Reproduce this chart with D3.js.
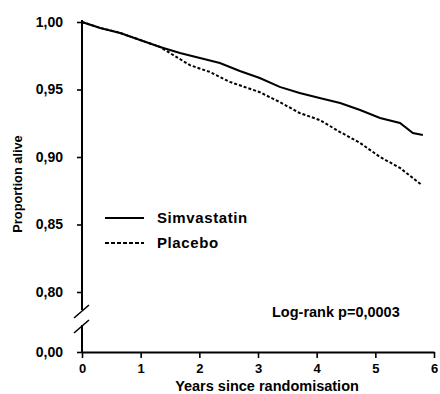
<!DOCTYPE html>
<html>
<head>
<meta charset="utf-8">
<script src="https://cdn.jsdelivr.net/npm/d3@7"></script>
<style>
  body { margin: 0; background: #fff; }
  svg text { font-family: "Liberation Sans", Arial, sans-serif; font-weight: bold; fill: #000; }
</style>
</head>
<body>
<div class="chart"></div>
<script>
// survival readings (years since randomisation -> proportion alive)
const simvYears = [0, 0.31, 0.65, 0.99, 1.33, 1.67, 2.01, 2.35, 2.69, 3.03, 3.37, 3.71, 4.05, 4.40, 4.74, 5.08, 5.42, 5.64, 5.81]
const simvSurv  = [1.000, 0.9956, 0.9919, 0.9867, 0.9815, 0.977, 0.9733, 0.9696, 0.9637, 0.9585, 0.9519, 0.9474, 0.9437, 0.940, 0.9348, 0.9289, 0.9252, 0.9178, 0.9163]
const placYears = [0, 0.31, 0.65, 0.99, 1.33, 1.5, 1.84, 2.18, 2.52, 3.03, 3.37, 3.71, 4.05, 4.40, 4.74, 5.08, 5.42, 5.79]
const placSurv  = [1.000, 0.9956, 0.9919, 0.9867, 0.9815, 0.977, 0.968, 0.963, 0.9556, 0.948, 0.9407, 0.9326, 0.9274, 0.9185, 0.9104, 0.900, 0.8919, 0.8793]

const seriesNames = ["Simvastatin", "Placebo"]
const xTicks = [0, 1, 2, 3, 4, 5, 6]
const yTicks = [0, 0.80, 0.85, 0.90, 0.95, 1.00]

const width = 440, height = 394

const svg = d3.select(".chart").append("svg")
  .attr("width", width)
  .attr("height", height)

const xs = d3.scaleLinear().domain([0, 6]).range([82, 434])
// broken axis: 0.00 sits below the break, 0.80-1.00 above it
const ys = d3.scaleLinear().domain([0, 0.80, 1.00]).range([352, 292, 22])

// y axis (ticks only, line drawn by hand for the break)
const yAxis = svg.append("g")
  .attr("transform", "translate(82,0)")
  .call(d3.axisLeft(ys).tickValues(yTicks).tickSize(5)
    .tickFormat(d => d3.format(".2f")(d).replace(".", ",")))
yAxis.select(".domain").remove()
yAxis.selectAll("line").attr("stroke", "#000").attr("stroke-width", 1.6)
yAxis.selectAll("text").attr("x", -19).style("font-size", "14px")

svg.append("line").attr("x1", 82).attr("x2", 82).attr("y1", 20).attr("y2", 310)
  .attr("stroke", "#000").attr("stroke-width", 2)
svg.append("line").attr("x1", 82).attr("x2", 82).attr("y1", 325).attr("y2", 353)
  .attr("stroke", "#000").attr("stroke-width", 2)
// break marks
svg.selectAll(".brk").data([0, 15]).join("line")
  .attr("class", "brk")
  .attr("x1", 74).attr("x2", 89)
  .attr("y1", d => 318 + d).attr("y2", d => 305 + d)
  .attr("stroke", "#000").attr("stroke-width", 1.6)

// x axis
const xAxis = svg.append("g")
  .attr("transform", "translate(0,352)")
  .call(d3.axisBottom(xs).tickValues(xTicks).tickSize(6).tickSizeOuter(0)
    .tickFormat(d3.format("d")))
xAxis.select(".domain").attr("stroke", "#000").attr("stroke-width", 2)
xAxis.selectAll("line").attr("stroke", "#000").attr("stroke-width", 1.6)
xAxis.selectAll("text").attr("y", 12).style("font-size", "13px")

// curves
const line = d3.line().x(d => xs(d[0])).y(d => ys(d[1]))
const simvData = simvYears.map((t, i) => [t, simvSurv[i]])
const placData = placYears.map((t, i) => [t, placSurv[i]])

svg.append("path").datum(placData)
  .attr("d", line).attr("fill", "none")
  .attr("stroke", "#000").attr("stroke-width", 2).attr("stroke-dasharray", "3,2")
svg.append("path").datum(simvData)
  .attr("d", line).attr("fill", "none")
  .attr("stroke", "#000").attr("stroke-width", 2)

// legend
const legend = svg.append("g").attr("transform", "translate(105,218)")
legend.selectAll("line").data(seriesNames).join("line")
  .attr("x1", 0).attr("x2", 39)
  .attr("y1", (d, i) => i * 25).attr("y2", (d, i) => i * 25)
  .attr("stroke", "#000").attr("stroke-width", 1.8)
  .attr("stroke-dasharray", (d, i) => i ? "4,2" : null)
legend.selectAll("text").data(seriesNames).join("text")
  .attr("x", 52).attr("y", (d, i) => i * 25 + 5)
  .style("font-size", "15px").style("letter-spacing", "0.6px")
  .text(d => d)

// annotations
svg.append("text").attr("x", 272).attr("y", 317)
  .style("font-size", "14.5px").text("Log-rank p=0,0003")

svg.append("text").attr("x", 267).attr("y", 391).attr("text-anchor", "middle")
  .style("font-size", "14.5px").text("Years since randomisation")

svg.append("text")
  .attr("transform", "translate(22,184) rotate(-90)")
  .attr("text-anchor", "middle")
  .style("font-size", "12.8px").text("Proportion alive")
</script>
</body>
</html>
